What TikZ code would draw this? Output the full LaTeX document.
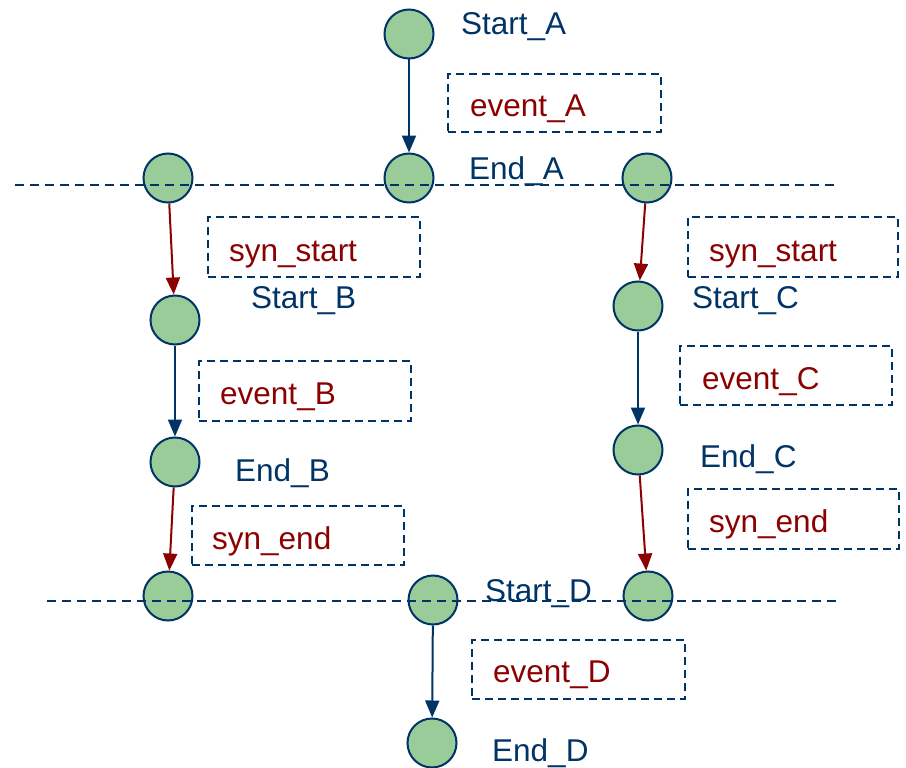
\documentclass[tikz,border=0pt]{standalone}
\usepackage{fontspec}
\setmainfont{Liberation Sans}
\usetikzlibrary{arrows.meta}
\definecolor{navy}{HTML}{003366}
\definecolor{wine}{HTML}{8B0000}
\definecolor{leaf}{HTML}{99CC99}
\tikzset{
  state/.style={circle, draw=navy, fill=leaf, line width=2pt, minimum size=49pt, inner sep=0pt},
  lbl/.style={anchor=base west, inner sep=0pt, text=navy, font=\fontsize{31.5}{36}\selectfont},
  evt/.style={anchor=base west, inner sep=0pt, text=wine, font=\fontsize{31.5}{36}\selectfont},
  evbox/.style={draw=navy, line width=2pt, dash pattern=on 8pt off 5pt, inner sep=0pt, rectangle},
  flow/.style={draw=navy, line width=2pt, -{Triangle[length=17pt, width=14pt]}},
  sync/.style={draw=wine, line width=2pt, -{Triangle[length=17pt, width=14pt]}},
  barrier/.style={draw=navy, line width=2pt, dash pattern=on 9pt off 6pt},
}
\begin{document}
\begin{tikzpicture}[x=1pt, y=-1pt]
\useasboundingbox (0,0) rectangle (906,768);

% states
\node[state] (sA) at (409,34) {};
\node[state] (eA) at (409,178) {};
\node[state] (fL) at (168,178) {};
\node[state] (fR) at (647,178) {};
\node[state] (sB) at (175,320) {};
\node[state] (eB) at (175,462) {};
\node[state] (sC) at (638,306) {};
\node[state] (eC) at (638,450) {};
\node[state] (jL) at (168,596) {};
\node[state] (sD) at (433,600) {};
\node[state] (jR) at (648,596) {};
\node[state] (eD) at (432,743) {};

% event boxes
\node[evbox, minimum width=213pt, minimum height=58pt] (bA)  at (554.5,103) {};
\node[evbox, minimum width=212pt, minimum height=60pt] (bSL) at (314,247) {};
\node[evbox, minimum width=210pt, minimum height=60pt] (bSR) at (793,247) {};
\node[evbox, minimum width=212pt, minimum height=60pt] (bB)  at (305,391) {};
\node[evbox, minimum width=212pt, minimum height=59pt] (bC)  at (786,375.5) {};
\node[evbox, minimum width=212pt, minimum height=59pt] (bEL) at (298,535.5) {};
\node[evbox, minimum width=211pt, minimum height=60pt] (bER) at (793.5,519) {};
\node[evbox, minimum width=213pt, minimum height=59pt] (bD)  at (578.5,669.5) {};

% event texts
\node[evt] (tA)  at (470,117) {event\_A};
\node[evt] (tSL) at (229,261) {syn\_start};
\node[evt] (tSR) at (709,261) {syn\_start};
\node[evt] (tB)  at (220,404) {event\_B};
\node[evt] (tC)  at (702,389) {event\_C};
\node[evt] (tEL) at (212,549) {syn\_end};
\node[evt] (tER) at (709,532) {syn\_end};
\node[evt] (tD)  at (493,682) {event\_D};

% state labels
\node[lbl] (lsA) at (461,35)  {Start\_A};
\node[lbl] (leA) at (469,179) {End\_A};
\node[lbl] (lsB) at (251,308) {Start\_B};
\node[lbl] (lsC) at (692,308) {Start\_C};
\node[lbl] (leB) at (235,481) {End\_B};
\node[lbl] (leC) at (700,467) {End\_C};
\node[lbl] (lsD) at (485,601) {Start\_D};
\node[lbl] (leD) at (492,761) {End\_D};

% transitions
\draw[flow] (sA) -- (eA);
\draw[flow] (sB) -- (eB);
\draw[flow] (sC) -- (eC);
\draw[flow] (sD) -- (eD);
\draw[sync] (fL) -- (sB);
\draw[sync] (eB) -- (jL);
\draw[sync] (fR) -- (sC);
\draw[sync] (eC) -- (jR);

% synchronisation barriers
\coordinate (fork1) at (15,185);
\coordinate (fork2) at (835,185);
\coordinate (join1) at (47,601);
\coordinate (join2) at (836,601);
\draw[barrier] (fork1) -- (fork2);
\draw[barrier] (join1) -- (join2);
\end{tikzpicture}
\end{document}
